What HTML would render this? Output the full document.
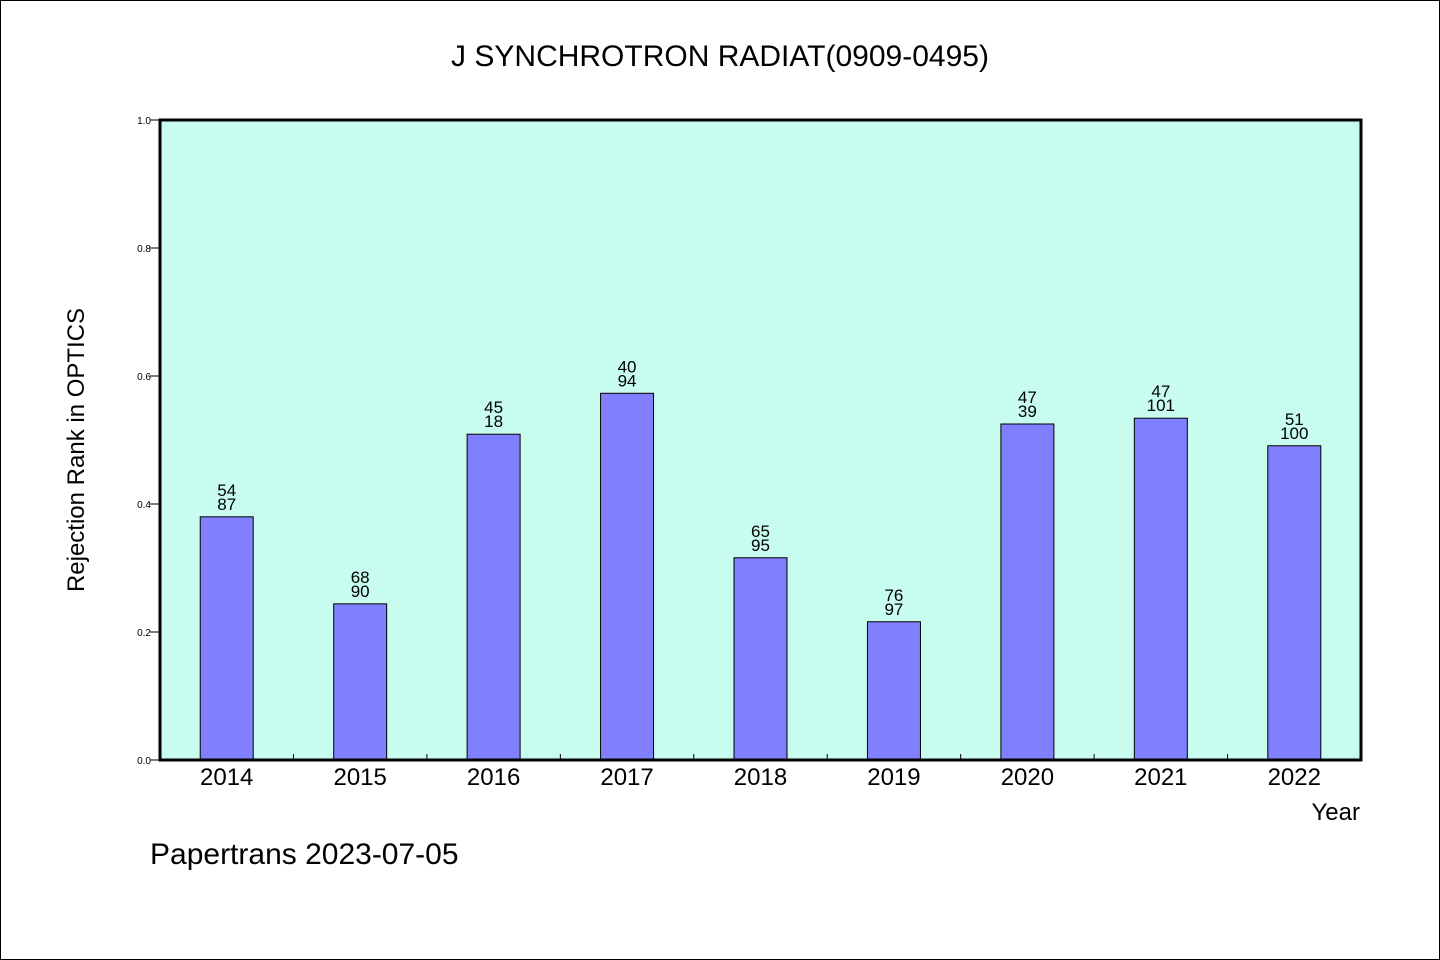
<!DOCTYPE html>
<html><head><meta charset="utf-8"><style>
body{margin:0;background:#fff;}
svg{display:block;font-family:"Liberation Sans","WenQuanYi Zen Hei",sans-serif;}
</style></head><body>
<svg id="chart" width="1440" height="960">
<rect x="0.5" y="0.5" width="1439" height="959" fill="#fff" stroke="#000"/>
<text x="720" y="66" text-anchor="middle" font-size="30">J SYNCHROTRON RADIAT(0909-0495)</text>
<rect x="160" y="120" width="1201" height="640" fill="#c8fcee"/>
<g id="bars"></g>
<rect x="160" y="120" width="1201" height="640" fill="none" stroke="#000" stroke-width="3"/>
<text transform="translate(84,450) rotate(-90)" text-anchor="middle" font-size="24">Rejection Rank in OPTICS</text>
<text x="1360" y="820" text-anchor="end" font-size="24">Year</text>
<text x="150" y="864" font-size="30">Papertrans 2023-07-05</text>
</svg>
<script>
const categories=["2014","2015","2016","2017","2018","2019","2020","2021","2022"];
const values=[0.380,0.244,0.509,0.573,0.316,0.216,0.525,0.534,0.491];
const topLabels=["54","68","45","40","65","76","47","47","51"];
const bottomLabels=["87","90","18","94","95","97","39","101","100"];
const yTicks=["0.0","0.2","0.4","0.6","0.8","1.0"];
const X0=160,X1=1361,Y0=760,Y1=120;
const band=(X1-X0)/categories.length;
const xc=i=>X0+band*(i+0.5);
const y=v=>Y0-(Y0-Y1)*v;
const NS="http://www.w3.org/2000/svg";
const g=document.getElementById('bars');
function mk(t,a){const e=document.createElementNS(NS,t);for(const k in a)e.setAttribute(k,a[k]);return e;}
categories.forEach((c,i)=>{
  const r=mk('rect',{x:xc(i)-26.5,y:y(values[i]),width:53,height:Y0-y(values[i]),fill:'#8080ff',stroke:'#000','stroke-width':1});
  
  
  g.appendChild(r);
  const t1=mk('text',{x:xc(i),y:y(values[i])-21,'text-anchor':'middle','font-size':17});
  t1.textContent=topLabels[i];
  
  
  g.appendChild(t1);
  const t2=mk('text',{x:xc(i),y:y(values[i])-7,'text-anchor':'middle','font-size':17});
  t2.textContent=bottomLabels[i];
  
  
  g.appendChild(t2);
  const xl=mk('text',{x:xc(i),y:785,'text-anchor':'middle','font-size':24});
  xl.textContent=c;
  
  
  g.appendChild(xl);
  if(i>0){const tk=mk('line',{x1:X0+band*i,x2:X0+band*i,y1:Y0,y2:Y0-6,stroke:'#000'});
  
  
  g.appendChild(tk);}
});
yTicks.forEach((l,i)=>{
  const v=parseFloat(l);
  const tk=mk('line',{x1:X0-10,x2:X0,y1:y(v),y2:y(v),stroke:'#000'});
  
  
  g.appendChild(tk);
  const t=mk('text',{x:X0-9,y:y(v)+4,'text-anchor':'end','font-size':10});
  t.textContent=l;
  
  
  g.appendChild(t);
});
</script>
</body></html>
